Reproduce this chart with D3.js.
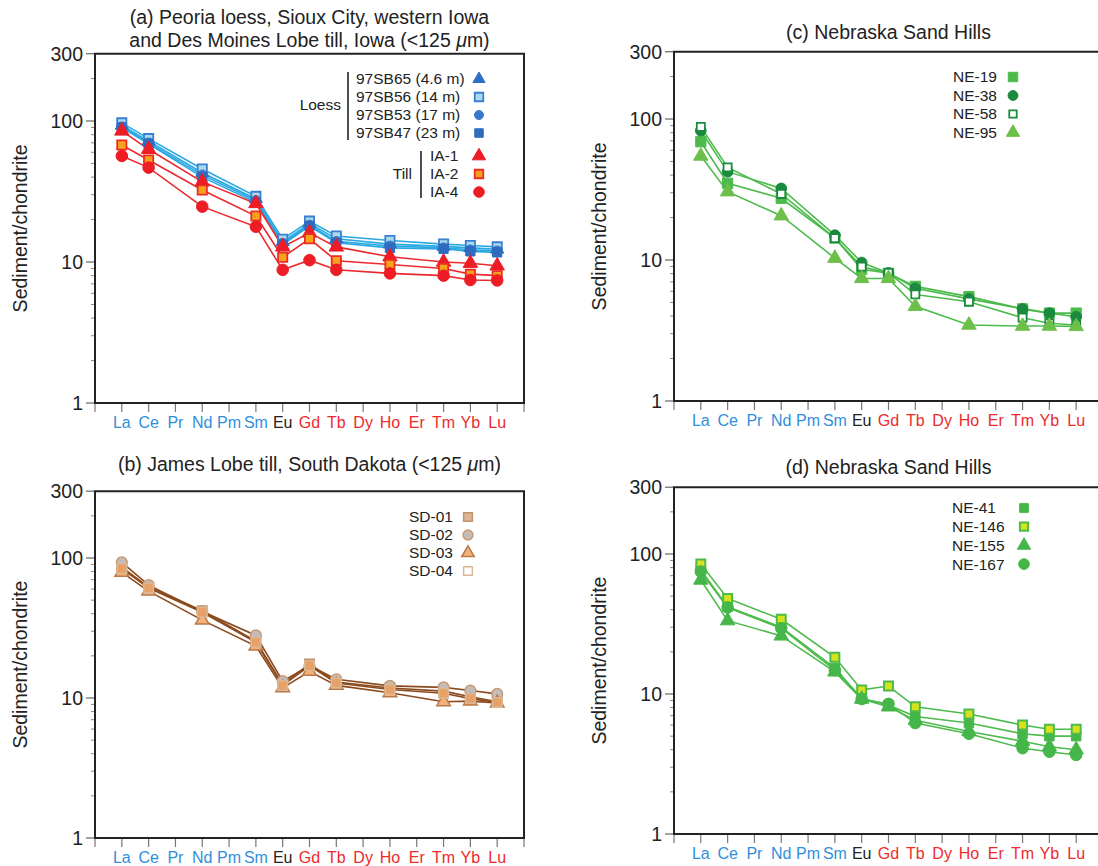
<!DOCTYPE html>
<html>
<head>
<meta charset="utf-8">
<script src="https://cdn.jsdelivr.net/npm/d3@7"></script>
<style>
  body { margin: 0; background: #fff; }
  svg { font-family: "Liberation Sans", Arial, sans-serif; }
</style>
</head>
<body>
<svg width="1098" height="866"></svg>
<script>
// REE order on the x axis (positions 1..15)
var ree = ["La", "Ce", "Pr", "Nd", "Pm", "Sm", "Eu", "Gd", "Tb", "Dy", "Ho", "Er", "Tm", "Yb", "Lu"];
// elements actually measured
var measured = ["La", "Ce", "Nd", "Sm", "Eu", "Gd", "Tb", "Ho", "Tm", "Yb", "Lu"];
var yTicks = [1, 10, 100, 300];

// (a) loess + till
var sb65 = [93, 72, 43, 28, 13.9, 18.8, 14.6, 13.4, 12.9, 12.6, 12.3];
var sb56 = [97, 75, 45.7, 29.2, 14.5, 19.5, 15.3, 14.2, 13.4, 13.1, 12.8];
var sb53 = [91, 70, 41.5, 27.3, 13.6, 18.3, 14.0, 13.0, 12.6, 12.2, 12.0];
var sb47 = [90, 69, 40, 26.5, 13.3, 18.0, 13.7, 12.6, 12.4, 11.9, 11.7];
var ia1 = [85, 63, 37, 26, 12.8, 16.1, 12.8, 10.9, 10.0, 9.8, 9.4];
var ia2 = [67.6, 52.9, 32.4, 21.2, 10.8, 14.6, 10.2, 9.6, 9.0, 8.2, 8.0];
var ia4 = [56.5, 46.7, 24.7, 17.8, 8.8, 10.3, 8.8, 8.3, 8.0, 7.45, 7.4];

// (b) James Lobe till
var sd01 = [86, 62, 42, 25.5, 12.5, 17.5, 13.0, 11.8, 11.2, 10.2, 9.4];
var sd02 = [93, 64, 41.5, 28, 13.2, 17.0, 13.6, 12.2, 11.9, 11.3, 10.7];
var sd03 = [79, 58, 36, 23.5, 11.8, 15.5, 12.3, 10.9, 9.4, 9.5, 9.2];
var sd04 = [84, 61, 41, 25, 12.3, 17.0, 12.8, 11.5, 10.8, 9.9, 9.3];

// (c) Nebraska Sand Hills
var ne19 = [69, 35, 27.4, 14.3, 8.6, 8.05, 6.5, 5.5, 4.5, 4.2, 4.2];
var ne38 = [82.6, 42.3, 32.2, 15.0, 9.6, 8.1, 6.3, 5.3, 4.5, 4.2, 3.96];
var ne58 = [88, 45.4, 29.4, 14.3, 8.97, 8.1, 5.7, 5.06, 3.9, 3.56, 3.46];
var ne95 = [54.6, 30.5, 20.6, 10.3, 7.4, 7.4, 4.7, 3.46, 3.4, 3.4, 3.38];

// (d) Nebraska Sand Hills
var ne41 = [76.9, 42, 30, 15.3, 9.3, 8.35, 6.9, 6.2, 5.2, 5.0, 5.0];
var ne146 = [84.8, 48.2, 34.2, 18.3, 10.7, 11.4, 8.1, 7.2, 6.0, 5.6, 5.6];
var ne155 = [65.2, 33.4, 26, 14.4, 9.2, 8.1, 6.5, 5.4, 4.6, 4.2, 4.0];
var ne167 = [75, 41.5, 29.5, 14.8, 9.2, 8.5, 6.2, 5.2, 4.1, 3.87, 3.67];

var lreeColor = "#2f8fdb", hreeColor = "#ee2a2a";

var svg = d3.select("svg");

function labelColor(el) {
  var i = ree.indexOf(el);
  if (i < 6) return lreeColor;
  if (el === "Eu") return "#222";
  return hreeColor;
}

function drawPanel(p) {
  var g = svg.append("g");
  var x = d3.scaleLinear().domain([0, 16]).range([p.left, p.right]);
  var y = d3.scaleLog().domain([1, 300]).range([p.bottom, p.bottom - p.decade * Math.log10(300)]);
  var top = y(300);

  // minor ticks
  var minor = [];
  [1, 10, 100].forEach(function(d) {
    for (var k = 2; k <= 9; k++) if (d * k < 300) minor.push(d * k);
  });
  g.selectAll(".minor").data(minor).enter().append("line")
    .attr("x1", x(0) - 4).attr("x2", x(0))
    .attr("y1", d => y(d)).attr("y2", d => y(d))
    .attr("stroke", "#888").attr("stroke-width", 1);
  g.selectAll(".major").data(yTicks).enter().append("line")
    .attr("x1", x(0) - 9).attr("x2", x(0))
    .attr("y1", d => y(d)).attr("y2", d => y(d))
    .attr("stroke", "#666").attr("stroke-width", 1.2);
  g.selectAll(".ylab").data(yTicks).enter().append("text")
    .attr("x", x(0) - 12).attr("y", d => y(d))
    .attr("dy", "0.35em").attr("text-anchor", "end")
    .attr("font-size", 19.5).attr("fill", "#222")
    .text(d => d);

  // x ticks
  g.selectAll(".xt").data(d3.range(0, 17)).enter().append("line")
    .attr("x1", d => x(d)).attr("x2", d => x(d))
    .attr("y1", p.bottom).attr("y2", p.bottom + 9)
    .attr("stroke", "#777").attr("stroke-width", 1.2);
  g.selectAll(".xlab").data(ree).enter().append("text")
    .attr("x", (d, i) => x(i + 1)).attr("y", p.bottom + 25)
    .attr("text-anchor", "middle").attr("font-size", 16)
    .attr("fill", d => labelColor(d))
    .text(d => d);

  // frame
  g.append("path")
    .attr("d", "M" + x(0) + "," + top + "H" + x(16) + "V" + p.bottom + "H" + x(0) + "Z")
    .attr("fill", "none").attr("stroke", "#222").attr("stroke-width", 2);

  // y label
  g.append("text")
    .attr("transform", "translate(" + (x(0) - 75) + "," + ((top + p.bottom) / 2) + ") rotate(-90)")
    .attr("text-anchor", "middle").attr("dy", "0.35em")
    .attr("font-size", 19.5).attr("fill", "#222")
    .text("Sediment/chondrite");

  // title
  p.title.forEach(function(t, i) {
    var tx = g.append("text")
      .attr("x", (p.left + p.right) / 2).attr("y", p.titleY + i * 23)
      .attr("text-anchor", "middle").attr("font-size", 19.5).attr("fill", "#222");
    if (t.indexOf("μm") >= 0) {
      var parts = t.split("μm");
      tx.append("tspan").text(parts[0]);
      tx.append("tspan").attr("font-style", "italic").text("μ");
      tx.append("tspan").text("m" + parts[1]);
    } else {
      tx.text(t);
    }
  });

  var line = d3.line()
    .x((d, i) => x(ree.indexOf(measured[i]) + 1))
    .y(d => y(d));

  p.series.forEach(function(s) {
    g.append("path").datum(s.values)
      .attr("d", line)
      .attr("fill", "none").attr("stroke", s.line).attr("stroke-width", 1.6);
  });
  p.series.forEach(function(s) {
    g.selectAll(null).data(s.values).enter().append("path")
      .attr("transform", (d, i) => "translate(" + x(ree.indexOf(measured[i]) + 1) + "," + y(d) + ")")
      .attr("d", d3.symbol().type(s.shape).size(s.size))
      .attr("fill", s.fill).attr("stroke", s.stroke).attr("stroke-width", s.sw);
  });

  // legend
  p.series.forEach(function(s, i) {
    var ly = p.legend.y + i * p.legend.dy + (s.gap || 0);
    g.append("text")
      .attr("x", p.legend.x).attr("y", ly).attr("dy", "0.35em")
      .attr("font-size", 15.5).attr("fill", "#222")
      .text(s.name);
    g.append("path")
      .attr("transform", "translate(" + p.legend.mx + "," + ly + ")")
      .attr("d", d3.symbol().type(s.shape).size(s.size * 0.85))
      .attr("fill", s.legendFill || s.fill).attr("stroke", s.stroke).attr("stroke-width", s.sw);
  });
  return g;
}

var sq = d3.symbolSquare, ci = d3.symbolCircle, tr = d3.symbolTriangle;

var ga = drawPanel({
  left: 95, right: 524, bottom: 403, decade: 141, titleY: 24,
  title: ["(a) Peoria loess, Sioux City, western Iowa", "and Des Moines Lobe till, Iowa (<125 μm)"],
  legend: { x: 356, y: 79, dy: 18, mx: 479 },
  series: [
    { name: "97SB65 (4.6 m)", values: sb65, shape: tr, size: 75, fill: "#2d6fc6", stroke: "#2d6fc6", sw: 1, line: "#2aa8e2" },
    { name: "97SB56 (14 m)", values: sb56, shape: sq, size: 85, fill: "#a9dbea", stroke: "#3b7fd2", sw: 1.8, line: "#2aa8e2" },
    { name: "97SB53 (17 m)", values: sb53, shape: ci, size: 75, fill: "#3a78cf", stroke: "#3a78cf", sw: 1, line: "#2aa8e2" },
    { name: "97SB47 (23 m)", values: sb47, shape: sq, size: 85, fill: "#2f6bbf", stroke: "#2f6bbf", sw: 1, line: "#2aa8e2" },
    { name: "IA-1", values: ia1, shape: tr, size: 90, fill: "#ee1c24", stroke: "#ee1c24", sw: 1, line: "#ec2a2e", gap: 5 },
    { name: "IA-2", values: ia2, shape: sq, size: 85, fill: "#f7a21b", stroke: "#ee2a24", sw: 1.8, line: "#ec2a2e", gap: 5 },
    { name: "IA-4", values: ia4, shape: ci, size: 105, fill: "#ee1c24", stroke: "#ee1c24", sw: 1, line: "#ec2a2e", gap: 5 }
  ]
});
// till names sit further right; group brackets
ga.selectAll("text").filter(function() { return /^IA-/.test(d3.select(this).text()); }).attr("x", 430);
ga.append("text").attr("x", 341).attr("y", 105).attr("dy", "0.35em").attr("text-anchor", "end")
  .attr("font-size", 15.5).attr("fill", "#222").text("Loess");
ga.append("line").attr("x1", 348).attr("x2", 348).attr("y1", 72).attr("y2", 140).attr("stroke", "#222").attr("stroke-width", 1.6);
ga.append("text").attr("x", 412).attr("y", 174).attr("dy", "0.35em").attr("text-anchor", "end")
  .attr("font-size", 15.5).attr("fill", "#222").text("Till");
ga.append("line").attr("x1", 421).attr("x2", 421).attr("y1", 151).attr("y2", 198).attr("stroke", "#222").attr("stroke-width", 1.6);

drawPanel({
  left: 95, right: 524, bottom: 838, decade: 140, titleY: 471,
  title: ["(b) James Lobe till, South Dakota (<125 μm)"],
  legend: { x: 409, y: 517, dy: 18, mx: 468 },
  series: [
    { name: "SD-01", values: sd01, shape: sq, size: 90, fill: "#d8b59a", stroke: "#c4926a", sw: 1.5, line: "#8b4a1c" },
    { name: "SD-02", values: sd02, shape: ci, size: 90, fill: "#c2bdbb", stroke: "#c99a70", sw: 1.5, line: "#8b4a1c" },
    { name: "SD-03", values: sd03, shape: tr, size: 80, fill: "#f4b27a", stroke: "#b87a4a", sw: 1.5, line: "#8b4a1c" },
    { name: "SD-04", values: sd04, shape: sq, size: 90, fill: "#e9a064", legendFill: "#fff", stroke: "#d8b896", sw: 1.5, line: "#8b4a1c" }
  ]
});

drawPanel({
  left: 674, right: 1103, bottom: 401, decade: 141, titleY: 39,
  title: ["(c) Nebraska Sand Hills"],
  legend: { x: 953, y: 77, dy: 18.5, mx: 1013 },
  series: [
    { name: "NE-19", values: ne19, shape: sq, size: 105, fill: "#4dbb4b", stroke: "#4dbb4b", sw: 1, line: "#4dbb4b" },
    { name: "NE-38", values: ne38, shape: ci, size: 90, fill: "#1a8a3f", stroke: "#1a8a3f", sw: 1, line: "#4dbb4b" },
    { name: "NE-58", values: ne58, shape: sq, size: 65, fill: "#fff", stroke: "#1a8a3f", sw: 1.8, line: "#4dbb4b" },
    { name: "NE-95", values: ne95, shape: tr, size: 90, fill: "#6cc04a", stroke: "#6cc04a", sw: 1, line: "#4dbb4b" }
  ]
});

drawPanel({
  left: 674, right: 1103, bottom: 834, decade: 140, titleY: 474,
  title: ["(d) Nebraska Sand Hills"],
  legend: { x: 952, y: 508, dy: 18.7, mx: 1024 },
  series: [
    { name: "NE-41", values: ne41, shape: sq, size: 90, fill: "#45b649", stroke: "#45b649", sw: 1, line: "#4dbb4b" },
    { name: "NE-146", values: ne146, shape: sq, size: 80, fill: "#d6e21c", stroke: "#4dbb4b", sw: 2, line: "#4dbb4b" },
    { name: "NE-155", values: ne155, shape: tr, size: 90, fill: "#45b649", stroke: "#45b649", sw: 1, line: "#4dbb4b" },
    { name: "NE-167", values: ne167, shape: ci, size: 105, fill: "#45b649", stroke: "#45b649", sw: 1, line: "#4dbb4b" }
  ]
});
</script>
</body>
</html>
